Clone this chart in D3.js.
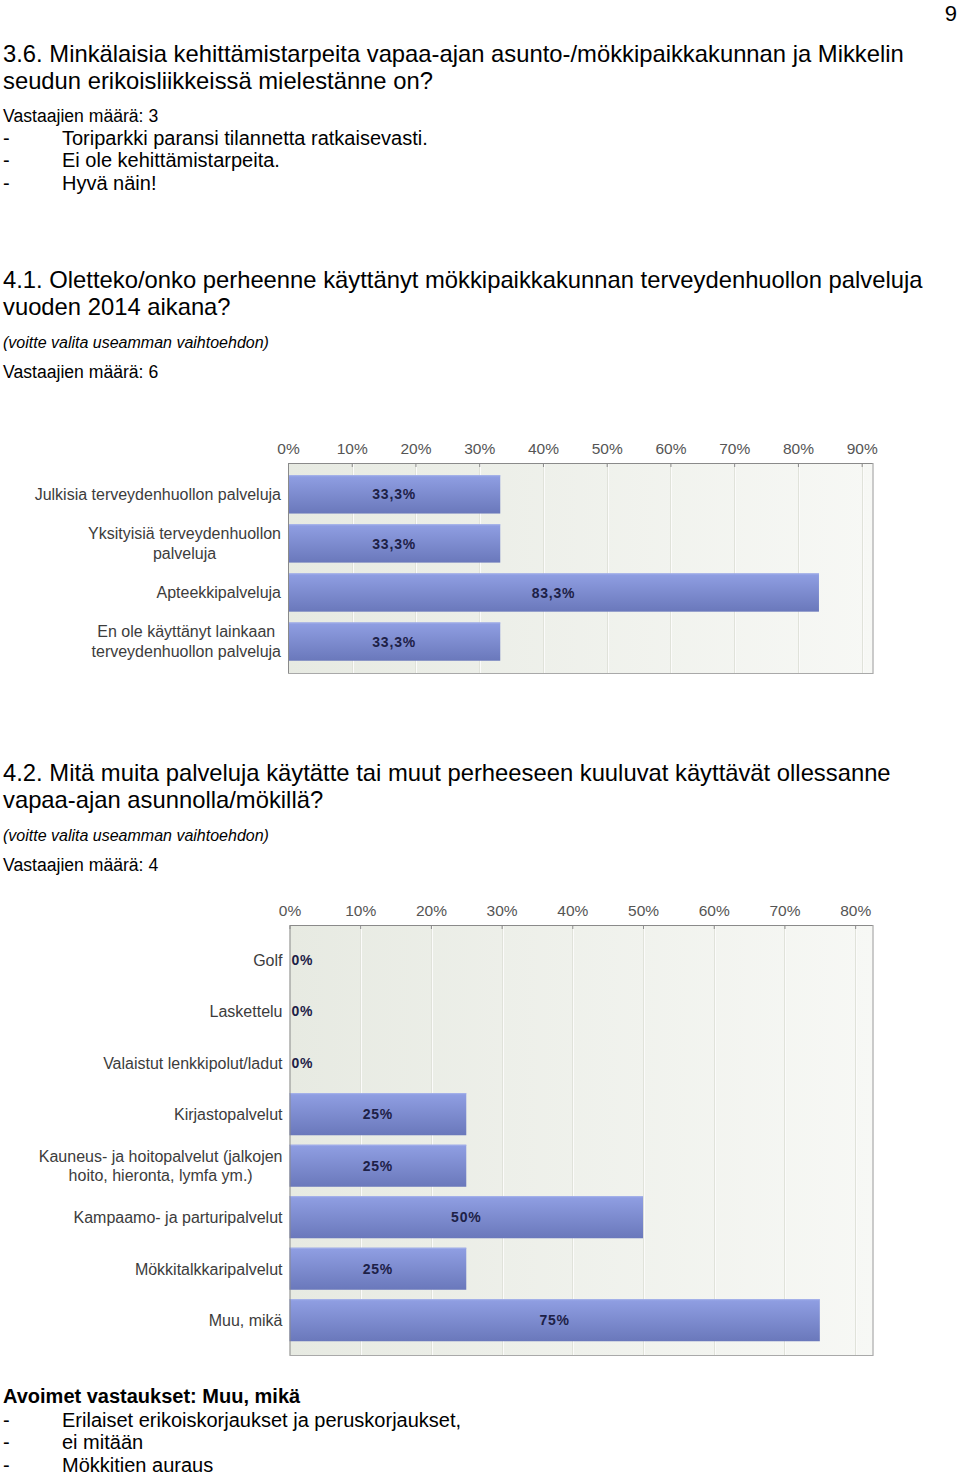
<!DOCTYPE html>
<html>
<head>
<meta charset="utf-8">
<script src="https://cdn.jsdelivr.net/npm/d3@7"></script>
<style>
  html, body { margin: 0; padding: 0; background: #fff; }
  svg { display: block; }
</style>
</head>
<body>
<svg id="page" width="960" height="1474"></svg>
<script>
// ---------- DATA ----------
const pageNumber = "9";

const q36Title = ["3.6. Minkälaisia kehittämistarpeita vapaa-ajan asunto-/mökkipaikkakunnan ja Mikkelin",
                  "seudun erikoisliikkeissä mielestänne on?"];
const q36Count = "Vastaajien määrä: 3";
const q36Answers = ["Toriparkki paransi tilannetta ratkaisevasti.", "Ei ole kehittämistarpeita.", "Hyvä näin!"];

const q41Title = ["4.1. Oletteko/onko perheenne käyttänyt mökkipaikkakunnan terveydenhuollon palveluja",
                  "vuoden 2014 aikana?"];
const q41Note = "(voitte valita useamman vaihtoehdon)";
const q41Count = "Vastaajien määrä: 6";
const categories1 = ["Julkisia terveydenhuollon palveluja",
                     "Yksityisiä terveydenhuollon\npalveluja",
                     "Apteekkipalveluja",
                     "En ole käyttänyt lainkaan\nterveydenhuollon palveluja"];
const values1 = [33.3, 33.3, 83.3, 33.3];
const ticks1 = [0, 10, 20, 30, 40, 50, 60, 70, 80, 90];

const q42Title = ["4.2. Mitä muita palveluja käytätte tai muut perheeseen kuuluvat käyttävät ollessanne",
                  "vapaa-ajan asunnolla/mökillä?"];
const q42Note = "(voitte valita useamman vaihtoehdon)";
const q42Count = "Vastaajien määrä: 4";
const categories2 = ["Golf", "Laskettelu", "Valaistut lenkkipolut/ladut", "Kirjastopalvelut",
                     "Kauneus- ja hoitopalvelut (jalkojen\nhoito, hieronta, lymfa ym.)",
                     "Kampaamo- ja parturipalvelut", "Mökkitalkkaripalvelut", "Muu, mikä"];
const values2 = [0, 0, 0, 25, 25, 50, 25, 75];
const ticks2 = [0, 10, 20, 30, 40, 50, 60, 70, 80];

const openTitle = "Avoimet vastaukset: Muu, mikä";
const openAnswers = ["Erilaiset erikoiskorjaukset ja peruskorjaukset,", "ei mitään", "Mökkitien auraus"];

// ---------- DRAW ----------
const svg = d3.select("#page");
const FONT = "'Liberation Sans', Arial, Helvetica, sans-serif";

const defs = svg.append("defs");
const bg = defs.append("linearGradient").attr("id", "bgGrad").attr("x1", 0).attr("x2", 1).attr("y1", 0).attr("y2", 0);
bg.append("stop").attr("offset", "0%").attr("stop-color", "#e7eae2");
bg.append("stop").attr("offset", "100%").attr("stop-color", "#f7f8f5");
const bar = defs.append("linearGradient").attr("id", "barGrad").attr("x1", 0).attr("x2", 0).attr("y1", 0).attr("y2", 1);
bar.append("stop").attr("offset", "0%").attr("stop-color", "#909fe3");
bar.append("stop").attr("offset", "100%").attr("stop-color", "#6a78bb");

function text(x, y, str, opts = {}) {
  return svg.append("text")
    .attr("x", x).attr("y", y)
    .attr("font-family", FONT)
    .attr("font-size", opts.size || 20)
    .attr("font-weight", opts.weight || "normal")
    .attr("font-style", opts.style || "normal")
    .attr("fill", opts.fill || "#000")
    .attr("text-anchor", opts.anchor || "start")
    .text(str);
}

// page number
text(957, 21, pageNumber, { size: 22, anchor: "end" });

// Question 3.6
q36Title.forEach((l, i) => text(3, 62 + i * 27, l, { size: 23.8 }));
text(3, 122, q36Count, { size: 17.6 });
q36Answers.forEach((l, i) => {
  text(3, 144.5 + i * 22.5, "-", { size: 20 });
  text(62, 144.5 + i * 22.5, l, { size: 20 });
});

// Question 4.1
q41Title.forEach((l, i) => text(3, 288 + i * 27, l, { size: 23.8 }));
text(3, 348, q41Note, { size: 16, style: "italic" });
text(3, 378, q41Count, { size: 17.6 });

// Question 4.2
q42Title.forEach((l, i) => text(3, 781 + i * 27, l, { size: 23.8 }));
text(3, 841, q42Note, { size: 16, style: "italic" });
text(3, 871, q42Count, { size: 17.6 });

// Open answers
text(3, 1403, openTitle, { size: 20, weight: "bold" });
openAnswers.forEach((l, i) => {
  text(3, 1426.5 + i * 22.5, "-", { size: 20 });
  text(62, 1426.5 + i * 22.5, l, { size: 20 });
});

function fmtPct(v) {
  return (Number.isInteger(v) ? String(v) : v.toFixed(1).replace(".", ",")) + "%";
}

function drawChart(cfg) {
  const { cats, vals, ticks, xMax, left, right, top, bottom, pInner, pOuter } = cfg;
  const x = d3.scaleLinear().domain([0, xMax]).range([left, right]);
  const y = d3.scaleBand().domain(cats).range([top, bottom]).paddingInner(pInner).paddingOuter(pOuter);
  const g = svg.append("g");

  // background
  g.append("rect").attr("x", left).attr("y", top).attr("width", right - left).attr("height", bottom - top)
    .attr("fill", "url(#bgGrad)");

  // grid
  g.selectAll("line.grid").data(ticks.filter(t => t > 0)).join("line")
    .attr("class", "grid")
    .attr("x1", d => Math.round(x(d)) + 0.5).attr("x2", d => Math.round(x(d)) + 0.5)
    .attr("y1", top).attr("y2", bottom)
    .attr("stroke", "#e0e2da").attr("stroke-width", 1);
  g.selectAll("line.gridhl").data(ticks.filter(t => t > 0)).join("line")
    .attr("class", "gridhl")
    .attr("x1", d => Math.round(x(d)) + 1.5).attr("x2", d => Math.round(x(d)) + 1.5)
    .attr("y1", top).attr("y2", bottom)
    .attr("stroke", "#fbfbfa").attr("stroke-width", 1);

  // bars
  const data = cats.map((c, i) => ({ c, v: vals[i] }));
  g.selectAll("rect.bar").data(data.filter(d => d.v > 0)).join("rect")
    .attr("class", "bar")
    .attr("x", x(0)).attr("y", d => y(d.c))
    .attr("width", d => x(d.v) - x(0)).attr("height", y.bandwidth())
    .attr("fill", "url(#barGrad)");
  g.selectAll("line.barhl").data(data.filter(d => d.v > 0)).join("line")
    .attr("class", "barhl")
    .attr("x1", x(0)).attr("x2", d => x(d.v))
    .attr("y1", d => y(d.c) + 0.5).attr("y2", d => y(d.c) + 0.5)
    .attr("stroke", "#a3b0ea").attr("stroke-width", 1);

  // value labels
  g.selectAll("text.val").data(data).join("text")
    .attr("class", "val")
    .attr("x", d => d.v > 0 ? (x(0) + x(d.v)) / 2 : x(0) + 2)
    .attr("y", d => y(d.c) + y.bandwidth() / 2)
    .attr("dy", "0.36em")
    .attr("text-anchor", d => d.v > 0 ? "middle" : "start")
    .attr("font-family", FONT).attr("font-size", 14).attr("font-weight", "bold")
    .attr("letter-spacing", 0.8)
    .attr("fill", "#1d2147")
    .text(d => fmtPct(d.v));

  // top axis
  const ax = g.append("g").attr("transform", `translate(0,${top})`)
    .call(d3.axisTop(x).tickValues(ticks).tickFormat(d => d + "%").tickSizeInner(-4).tickSizeOuter(0).tickPadding(9));
  ax.select(".domain").attr("stroke", "#8a8a8a");
  ax.selectAll(".tick line").attr("stroke", "#8a8a8a");
  ax.selectAll(".tick text").attr("font-family", FONT).attr("font-size", 15.5).attr("fill", "#555");

  // left axis with category labels
  const ay = g.append("g").attr("transform", `translate(${left},0)`)
    .call(d3.axisLeft(y).tickSize(0).tickPadding(7).tickFormat(""));
  ay.select(".domain").attr("stroke", "#8a8a8a");
  ay.selectAll(".tick").each(function (d) {
    const lines = d.split("\n");
    const t = d3.select(this).append("text")
      .attr("font-family", FONT).attr("font-size", 16).attr("fill", "#3c3c3c");
    if (lines.length === 1) {
      t.attr("x", -7).attr("dy", "0.36em").attr("text-anchor", "end").text(lines[0]);
    } else {
      const tmp = lines.map(l => {
        const s = t.append("tspan").text(l);
        const w = s.node().getComputedTextLength();
        s.remove();
        return w;
      });
      const wMax = d3.max(tmp);
      const cx = -7 - wMax / 2;
      const lh = 20;
      t.attr("text-anchor", "middle");
      lines.forEach((l, i) => {
        t.append("tspan").attr("x", cx)
          .attr("y", (i - (lines.length - 1) / 2) * lh)
          .attr("dy", "0.36em").text(l);
      });
    }
  });

  // right & bottom frame
  g.append("path")
    .attr("d", `M${right + 0.5},${top}V${bottom + 0.5}H${left}`)
    .attr("fill", "none").attr("stroke", "#a9a9a9").attr("stroke-width", 1.2);
}

drawChart({ cats: categories1, vals: values1, ticks: ticks1, xMax: 91.7,
            left: 288, right: 872.5, top: 463, bottom: 673, pInner: 0.22, pOuter: 0.25 });
drawChart({ cats: categories2, vals: values2, ticks: ticks2, xMax: 82.45,
            left: 289.5, right: 872.5, top: 925, bottom: 1355, pInner: 0.184, pOuter: 0.267 });
</script>
</body>
</html>
